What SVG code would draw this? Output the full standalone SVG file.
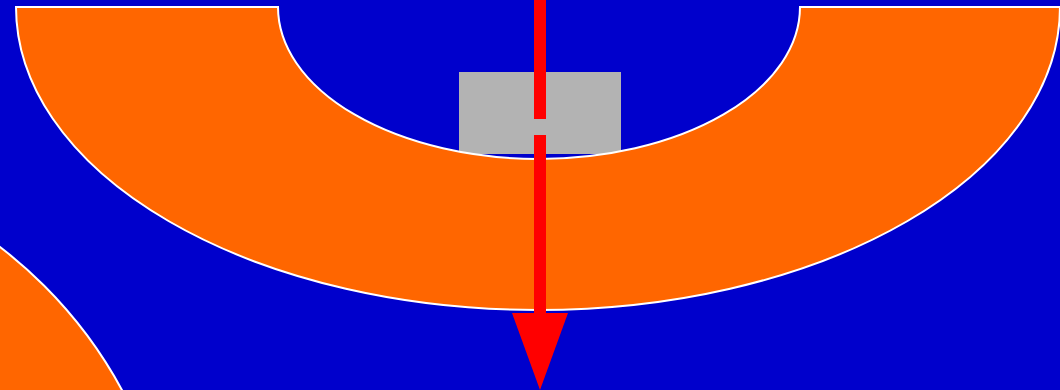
<svg xmlns="http://www.w3.org/2000/svg" width="1060" height="390" viewBox="0 0 1060 390">
<style>
.shape{fill:#FF6600;stroke:#FFFFFF;stroke-width:2}
.red{fill:#FF0000}
</style>
<rect x="0" y="0" width="1060" height="390" fill="#0000CC"/>
<g id="gray-box"><rect x="459" y="72" width="162" height="82" fill="#B3B3B3"/></g>
<g id="arch"><path class="shape" d="M16,7 A522,303 0 0 0 1060,7 L800,7 A261,152 0 0 1 278,7 Z"/></g>
<g id="corner"><circle class="shape" cx="-274" cy="604" r="450"/></g>
<g id="connectors">
<rect class="red" x="534" y="0" width="12" height="119"/>
<rect class="red" x="534" y="135" width="12" height="180"/>
<polygon class="red" points="512,313 568,313 540,390"/>
</g>
</svg>
